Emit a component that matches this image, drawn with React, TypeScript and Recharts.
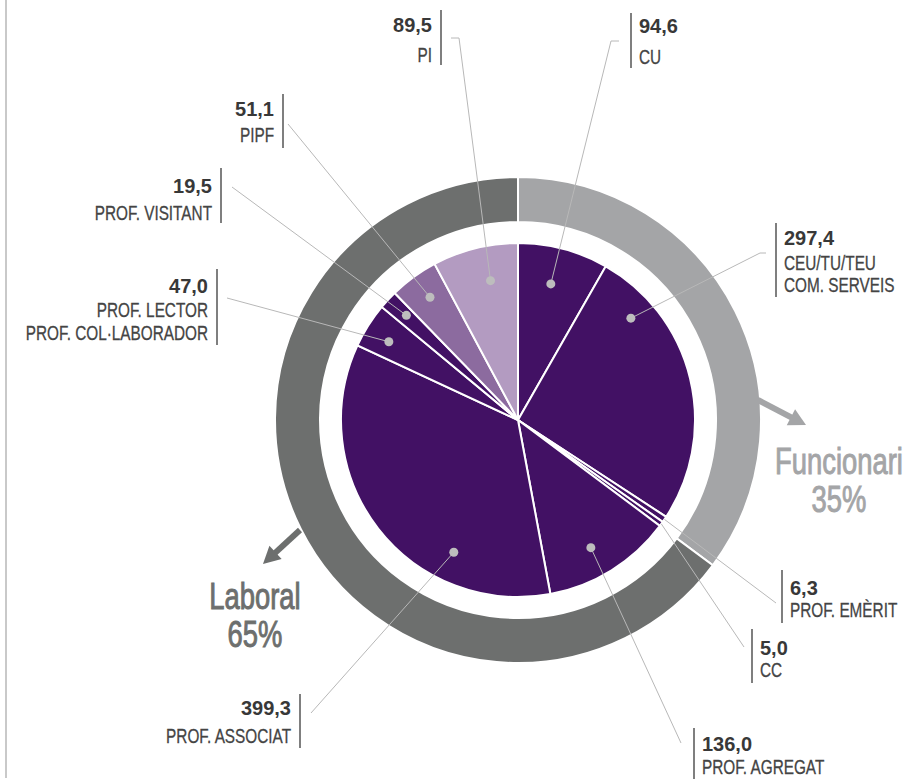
import { PieChart, Pie, Cell } from 'recharts';

// staff by category (FTE), clockwise from 12 o'clock
const CATEGORIES = [
  'CU',
  'CEU/TU/TEU|COM. SERVEIS',
  'PROF. EMÈRIT',
  'CC',
  'PROF. AGREGAT',
  'PROF. ASSOCIAT',
  'PROF. LECTOR|PROF. COL·LABORADOR',
  'PROF. VISITANT',
  'PIPF',
  'PI',
];
const VALUES = [94.6, 297.4, 6.3, 5.0, 136.0, 399.3, 47.0, 19.5, 51.1, 89.5];
const CATEGORY_GROUP = [
  'Funcionari', 'Funcionari', 'Funcionari', 'Funcionari',
  'Laboral', 'Laboral', 'Laboral', 'Laboral', 'Laboral', 'Laboral',
];
const GROUPS = ['Funcionari', 'Laboral'];

const DARK_PURPLE = '#421164';
const SLICE_COLORS = [
  DARK_PURPLE, DARK_PURPLE, DARK_PURPLE, DARK_PURPLE, DARK_PURPLE,
  DARK_PURPLE, DARK_PURPLE, DARK_PURPLE, '#8C6B9F', '#B39BC1',
];
const GROUP_COLORS = ['#A4A5A7', '#6D6F6E'];

const FONT = "'Liberation Sans', Arial, sans-serif";
const RAD = Math.PI / 180;
const NAME_SQUEEZE = 0.73;
const GROUP_SQUEEZE = 0.74;

type LabelLayout = {
  barX: number;
  barTop: number;
  barBottom: number;
  side: 'left' | 'right';
  valueY: number;
  nameY: number[];
  end: [number, number];
  tail?: [number, number];
  shift: number; // clockwise deg from slice middle
  r: number;
  dot: boolean;
};

const LABEL_LAYOUT: LabelLayout[] = [
  { barX: 631, barTop: 13, barBottom: 68, side: 'right', valueY: 33, nameY: [64], end: [611, 41], tail: [619, 41], shift: -1.3, r: 140, dot: true },
  { barX: 776, barTop: 223, barBottom: 297, side: 'right', valueY: 245, nameY: [270, 292], end: [760, 253], tail: [766, 253], shift: -28.5, r: 152, dot: true },
  { barX: 782, barTop: 570, barBottom: 623, side: 'right', valueY: 595, nameY: [617], end: [776, 603], shift: 0, r: 177, dot: false },
  { barX: 752, barTop: 629, barBottom: 683, side: 'right', valueY: 655, nameY: [677], end: [744, 647], shift: 0, r: 177, dot: false },
  { barX: 694, barTop: 728, barBottom: 779, side: 'right', valueY: 751, nameY: [774], end: [681, 743], shift: 2.2, r: 147, dot: true },
  { barX: 300, barTop: 694, barBottom: 748, side: 'left', valueY: 715, nameY: [743], end: [311, 713], shift: -26.3, r: 147, dot: true },
  { barX: 217, barTop: 269, barBottom: 345, side: 'left', valueY: 293, nameY: [317, 340], end: [227, 298], shift: -1.1, r: 151, dot: true },
  { barX: 221, barTop: 168, barBottom: 223, side: 'left', valueY: 193, nameY: [220], end: [232, 187], shift: 0.4, r: 153, dot: true },
  { barX: 283, barTop: 94, barBottom: 148, side: 'left', valueY: 116, nameY: [142], end: [288, 124], shift: 0.5, r: 151, dot: true },
  { barX: 441, barTop: 10, barBottom: 65, side: 'left', valueY: 32, nameY: [62], end: [459, 38], tail: [451, 38], shift: 2.9, r: 142, dot: true },
];

const GROUP_LAYOUT = [
  { from: [758, 400], to: [806, 425], textX: 839, lineY: [474, 512] },
  { from: [300, 530], to: [263, 564], textX: 255, lineY: [609, 647] },
];

const fmt = (v: number) => v.toFixed(1).replace('.', ',');

const sliceData = CATEGORIES.map((name, i) => ({ name, value: VALUES[i] }));
const total = VALUES.reduce((s, v) => s + v, 0);
const groupData = GROUPS.map((g) => ({
  name: g,
  value: VALUES.filter((_, i) => CATEGORY_GROUP[i] === g).reduce((s, v) => s + v, 0),
}));

const renderSliceLabel = (props: any) => {
  const { cx, cy, midAngle, index } = props;
  const l = LABEL_LAYOUT[index];
  const a = (midAngle - l.shift) * RAD;
  const px = cx + l.r * Math.cos(a);
  const py = cy - l.r * Math.sin(a);
  const pts = [[px, py], l.end, ...(l.tail ? [l.tail] : [])].map((p) => p.join(',')).join(' ');
  const tx = l.side === 'right' ? l.barX + 8 : l.barX - 9;
  const anchor = l.side === 'right' ? 'start' : 'end';
  const lines = CATEGORIES[index].split('|');
  return (
    <g key={`lbl-${index}`}>
      <polyline points={pts} fill="none" stroke="#B8B8B8" strokeWidth={1} />
      {l.dot && <circle cx={px} cy={py} r={4.5} fill="#BDBDBD" />}
      <line x1={l.barX} y1={l.barTop} x2={l.barX} y2={l.barBottom} stroke="#555" strokeWidth={1.5} />
      <text x={tx} y={l.valueY} textAnchor={anchor} fontFamily={FONT} fontWeight="bold" fontSize={20} fill="#383838">
        {fmt(VALUES[index])}
      </text>
      {lines.map((t, k) => (
        <text
          key={k}
          transform={`translate(${tx},${l.nameY[k]}) scale(${NAME_SQUEEZE},1)`}
          textAnchor={anchor}
          fontFamily={FONT}
          fontSize={21}
          fill="#444"
          stroke="#444"
          strokeWidth={0.3}
        >
          {t}
        </text>
      ))}
    </g>
  );
};

const renderGroupLabel = (props: any) => {
  const { index } = props;
  const g = GROUP_LAYOUT[index];
  const color = GROUP_COLORS[index];
  const [x1, y1] = g.from;
  const [x2, y2] = g.to;
  const len = Math.hypot(x2 - x1, y2 - y1);
  const ux = (x2 - x1) / len;
  const uy = (y2 - y1) / len;
  const headLen = 17;
  const halfW = 9;
  const bx = x2 - ux * headLen;
  const by = y2 - uy * headLen;
  const head = [
    [x2, y2],
    [bx - uy * halfW, by + ux * halfW],
    [bx + uy * halfW, by - ux * halfW],
  ].map((p) => p.join(',')).join(' ');
  const pct = Math.round((groupData[index].value / total) * 100);
  return (
    <g key={`grp-${index}`}>
      <line x1={x1} y1={y1} x2={bx + ux * 2} y2={by + uy * 2} stroke={color} strokeWidth={6} />
      <polygon points={head} fill={color} />
      <text transform={`translate(${g.textX},${g.lineY[0]}) scale(${GROUP_SQUEEZE},1)`} textAnchor="middle" fontFamily={FONT} fontSize={37} fill={color} stroke={color} strokeWidth={1}>
        {GROUPS[index]}
      </text>
      <text transform={`translate(${g.textX},${g.lineY[1]}) scale(${GROUP_SQUEEZE},1)`} textAnchor="middle" fontFamily={FONT} fontSize={37} fill={color} stroke={color} strokeWidth={1}>
        {pct}%
      </text>
    </g>
  );
};

export default function App() {
  return (
    <div style={{ position: 'absolute', left: 0, top: 0, width: 906, height: 779, background: '#fff' }}>
      <div style={{ position: 'absolute', left: 5, top: 0, width: 2, height: 778, background: '#C9C9C9' }} />
      <PieChart width={906} height={779} margin={{ top: 0, right: 0, bottom: 0, left: 0 }}>
        <Pie
          data={groupData}
          dataKey="value"
          cx={518}
          cy={420}
          innerRadius={198}
          outerRadius={243}
          startAngle={90}
          endAngle={-270}
          stroke="#fff"
          strokeWidth={2}
          label={renderGroupLabel}
          labelLine={false}
          isAnimationActive={false}
        >
          {groupData.map((g, i) => (
            <Cell key={g.name} fill={GROUP_COLORS[i]} />
          ))}
        </Pie>
        <Pie
          data={sliceData}
          dataKey="value"
          cx={518}
          cy={420}
          outerRadius={177}
          startAngle={90}
          endAngle={-270}
          stroke="#fff"
          strokeWidth={2}
          label={renderSliceLabel}
          labelLine={false}
          isAnimationActive={false}
        >
          {sliceData.map((s, i) => (
            <Cell key={s.name} fill={SLICE_COLORS[i]} />
          ))}
        </Pie>
      </PieChart>
    </div>
  );
}
